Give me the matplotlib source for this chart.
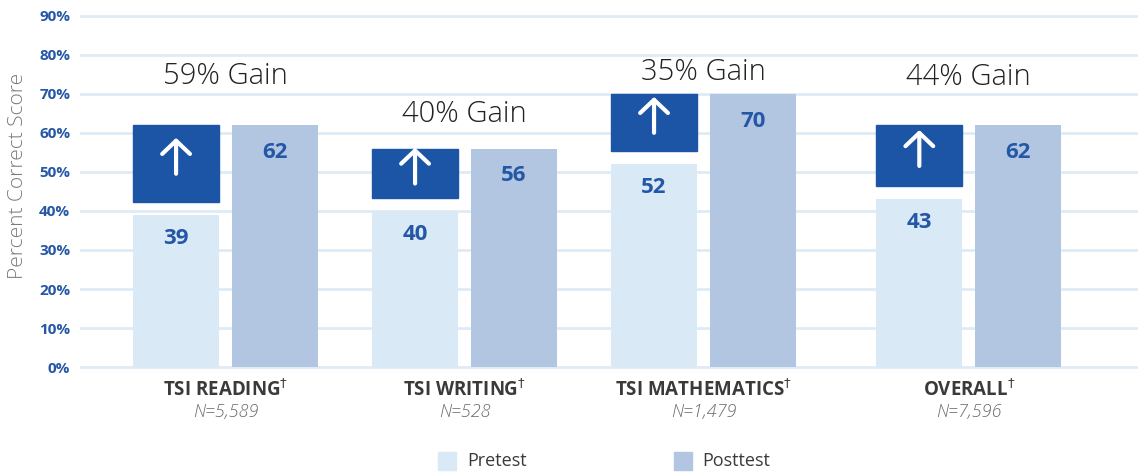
import matplotlib.pyplot as plt
from matplotlib.patches import Rectangle

plt.rcParams['font.family'] = ['Open Sans', 'DejaVu Sans']

categories = ["TSI READING", "TSI WRITING", "TSI MATHEMATICS", "OVERALL"]
sample_sizes = ["N=5,589", "N=528", "N=1,479", "N=7,596"]
pretest = [39, 40, 52, 43]
posttest = [62, 56, 70, 62]
gains = ["59% Gain", "40% Gain", "35% Gain", "44% Gain"]

# layout
group_pos = [0, 1, 2, 3.11]
gain_y = [74.6, 64.9, 75.6, 74.4]
bar_w = 0.36
off = 0.207

c_pre = '#d9e9f6'
c_post = '#b2c6e1'
c_dark = '#1c55a5'
c_lab = '#2557a7'
c_grid = '#deebf7'

fig = plt.figure(figsize=(11.38, 4.74), dpi=100)
ax = fig.add_axes([80 / 1138, 0.2175, 1 - 80 / 1138, 0.757])
ax.set_xlim(-0.609, 3.818)
ax.set_ylim(-1, 91)

for t in range(0, 91, 10):
    ax.axhline(t, color=c_grid, lw=2, zorder=0)

for i, x in enumerate(group_pos):
    ax.bar(x - off, pretest[i], width=bar_w, color=c_pre, zorder=2)
    ax.bar(x + off, posttest[i], width=bar_w, color=c_post, zorder=2)
    # gain box over pretest bar
    lo = pretest[i] + 3.3
    ax.add_patch(Rectangle((x - off - bar_w / 2, lo), bar_w, posttest[i] - lo,
                           color=c_dark, zorder=3))
    mid = (lo + posttest[i]) / 2 + 2
    ax.annotate("", xy=(x - off, mid + 4.6), xytext=(x - off, mid - 4.6),
                arrowprops=dict(arrowstyle='->,head_length=0.95,head_width=1.0',
                                color='white', lw=3, capstyle='round',
                                joinstyle='round', shrinkA=0, shrinkB=0),
                zorder=4)
    ax.text(x - off, pretest[i] - 6, str(pretest[i]), ha='center', va='center',
            fontsize=16, fontweight='bold', color=c_lab, zorder=4)
    ax.text(x + off, posttest[i] - 7, str(posttest[i]), ha='center', va='center',
            fontsize=16, fontweight='bold', color=c_lab, zorder=4)
    ax.text(x, gain_y[i], gains[i], ha='center', va='center', fontsize=21,
            fontweight='light', color='#222222', zorder=4)
    ax.text(x, -6, categories[i] + r"$^{\dagger}$", ha='center', va='center',
            fontsize=13.5, fontweight='bold', color='#3a3a3a')
    ax.text(x, -11.6, sample_sizes[i], ha='center', va='center', fontsize=13,
            style='italic', fontweight='light', color='#6a6a6a')

ax.set_yticks(range(0, 91, 10))
ax.set_yticklabels([f"{t}%" for t in range(0, 91, 10)], fontsize=11,
                   fontweight='bold', color=c_lab)
ax.tick_params(axis='y', length=0, pad=7)
ax.set_xticks([])
for s in ax.spines.values():
    s.set_visible(False)

fig.text(18 / 1138, 1 - 176 / 474, "Percent Correct Score", rotation=90,
         ha='center', va='center', fontsize=15, color='#7a7a7a', fontweight='light')

# legend
fig.patches.append(Rectangle((438 / 1138, 1 - 470 / 474), 18 / 1138, 18 / 474,
                             transform=fig.transFigure, color=c_pre))
fig.text(467 / 1138, 1 - 461 / 474, "Pretest", ha='left', va='center',
         fontsize=13, color='#3a3a3a')
fig.patches.append(Rectangle((674 / 1138, 1 - 470 / 474), 18 / 1138, 18 / 474,
                             transform=fig.transFigure, color=c_post))
fig.text(702 / 1138, 1 - 461 / 474, "Posttest", ha='left', va='center',
         fontsize=13, color='#3a3a3a')

fig.savefig("out.png", dpi=100)
